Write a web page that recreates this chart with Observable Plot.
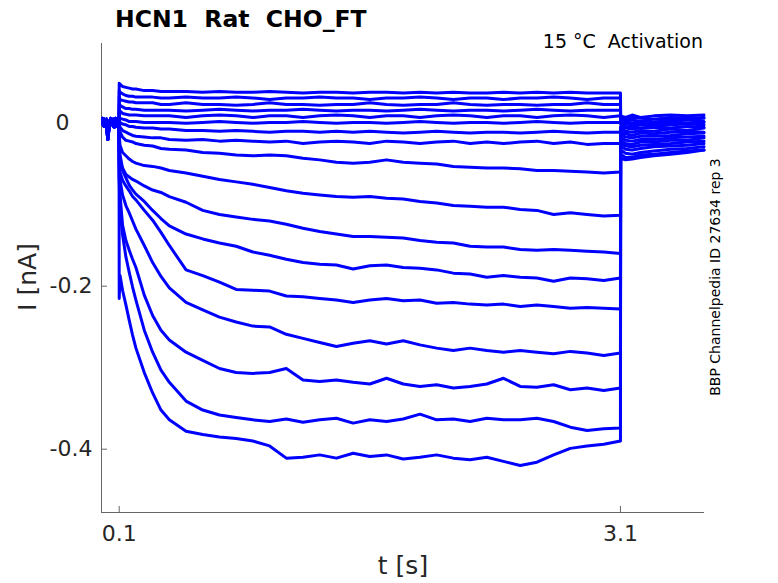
<!DOCTYPE html>
<html><head><meta charset="utf-8">
<script src="https://cdn.jsdelivr.net/npm/d3@7"></script>
<script src="https://cdn.jsdelivr.net/npm/@observablehq/plot@0.6"></script>
<style>body{margin:0;background:#fff;} #chart svg{display:block;}</style>
</head><body><div id="chart"></div>
<script>
// time samples (s)
const preT  = [0, 0.01, 0.02, 0.025, 0.032, 0.04, 0.05, 0.06, 0.07, 0.08, 0.09, 0.099];
const stepT = [0.1, 0.105, 0.12, 0.14, 0.16, 0.18, 0.2, 0.25, 0.3, 0.35, 0.4, 0.5, 0.6, 0.7, 0.8, 0.9, 1.0, 1.1, 1.2, 1.3, 1.4, 1.5, 1.6, 1.7, 1.8, 1.9, 2.0, 2.1, 2.2, 2.3, 2.4, 2.5, 2.6, 2.7, 2.8, 2.9, 3.0, 3.1];
const tailT = [3.101, 3.13, 3.17, 3.22, 3.3, 3.4, 3.5, 3.6];

// holding current before the step (nA)
const preA = [0.002, 0.005, 0.004, 0.001, -0.001, 0.002, 0.004, 0.001, 0.005, 0.002, 0.004, 0.001];
const preB = [-0.001, -0.004, -0.002, -0.006, -0.020, -0.004, -0.001, -0.002, -0.005, -0.001, -0.004, -0.002];
const preC = [0.006, 0.001, 0.002, 0.005, -0.005, 0.000, 0.006, 0.004, 0.001, 0.006, 0.002, 0.004];

// step current (stepT) followed by tail current (tailT), nA
const trace01 = [0.049,0.048,0.045,0.044,0.043,0.042,0.042,0.040,0.040,0.039,0.039, 0.039,0.038,0.039,0.038,0.038,0.039,0.038,0.037,0.038,0.038, 0.037,0.038,0.038,0.037,0.038,0.037,0.038,0.037,0.037,0.038, 0.037,0.038,0.037,0.038,0.037,0.037,0.037, 0.009,0.007,0.010,0.007,0.009,0.010,0.009,0.010];
const trace02 = [0.040,0.038,0.036,0.034,0.033,0.033,0.032,0.032,0.032,0.031,0.031, 0.032,0.031,0.031,0.032,0.031,0.029,0.031,0.031,0.032,0.031, 0.031,0.029,0.031,0.031,0.032,0.031,0.029,0.031,0.031,0.029, 0.031,0.031,0.032,0.031,0.029,0.031,0.031, 0.006,0.005,0.007,0.006,0.005,0.007,0.006,0.007];
const trace03 = [0.032,0.029,0.028,0.027,0.026,0.026,0.025,0.025,0.025,0.023,0.023, 0.025,0.023,0.023,0.022,0.023,0.025,0.023,0.023,0.022,0.023, 0.023,0.025,0.023,0.022,0.023,0.023,0.025,0.023,0.022,0.023, 0.023,0.022,0.023,0.023,0.025,0.023,0.023, 0.005,0.002,0.004,0.002,0.005,0.004,0.005,0.006];
const trace04 = [0.023,0.022,0.020,0.018,0.018,0.017,0.017,0.016,0.016,0.016,0.016, 0.015,0.016,0.017,0.016,0.015,0.016,0.016,0.017,0.016,0.015, 0.016,0.016,0.015,0.016,0.017,0.016,0.015,0.016,0.016,0.015, 0.016,0.017,0.016,0.015,0.016,0.016,0.016, 0.002,0.001,0.000,0.002,0.001,0.002,0.004,0.002];
const trace05 = [0.016,0.015,0.012,0.011,0.010,0.010,0.010,0.009,0.009,0.009,0.009, 0.007,0.009,0.010,0.009,0.007,0.009,0.009,0.007,0.009,0.010, 0.009,0.007,0.009,0.009,0.007,0.009,0.010,0.009,0.007,0.009, 0.009,0.007,0.009,0.010,0.009,0.007,0.009, 0.000,-0.001,-0.002,0.000,-0.001,0.001,0.000,0.001];
const trace06 = [0.007,0.006,0.005,0.004,0.002,0.002,0.002,0.001,0.001,0.001,0.001, 0.000,0.001,0.002,0.001,0.000,0.001,0.001,0.002,0.001,0.000, 0.001,0.001,0.000,0.001,0.002,0.001,0.000,0.001,0.001,0.000, 0.001,0.002,0.001,0.000,0.001,0.001,0.001, -0.001,-0.004,-0.005,-0.002,-0.004,-0.002,-0.001,-0.002];
const trace07 = [0.002,0.001,-0.001,-0.002,-0.004,-0.004,-0.005,-0.006,-0.006,-0.007,-0.007, -0.009,-0.009,-0.010,-0.009,-0.010,-0.011,-0.010,-0.010,-0.011,-0.010, -0.011,-0.010,-0.011,-0.012,-0.011,-0.010,-0.011,-0.012,-0.011,-0.011, -0.012,-0.011,-0.010,-0.011,-0.012,-0.011,-0.011, -0.004,-0.006,-0.007,-0.006,-0.005,-0.006,-0.004,-0.005];
const trace08 = [-0.001,-0.005,-0.009,-0.011,-0.013,-0.015,-0.016,-0.017,-0.018,-0.018,-0.020, -0.021,-0.020,-0.022,-0.021,-0.022,-0.023,-0.022,-0.025,-0.023,-0.022, -0.023,-0.025,-0.022,-0.023,-0.025,-0.023,-0.022,-0.025,-0.023,-0.025, -0.023,-0.022,-0.025,-0.023,-0.026,-0.025,-0.025, -0.006,-0.010,-0.011,-0.009,-0.010,-0.007,-0.009,-0.006];
const trace09 = [-0.005,-0.011,-0.017,-0.021,-0.022,-0.023,-0.025,-0.027,-0.028,-0.031,-0.032, -0.033,-0.036,-0.037,-0.039,-0.040,-0.039,-0.040,-0.043,-0.045,-0.048, -0.049,-0.048,-0.045,-0.048,-0.049,-0.050,-0.053,-0.054,-0.055,-0.055, -0.056,-0.058,-0.058,-0.059,-0.060,-0.061,-0.060, -0.010,-0.013,-0.015,-0.012,-0.013,-0.011,-0.010,-0.011];
const trace10 = [-0.015,-0.027,-0.036,-0.040,-0.044,-0.047,-0.049,-0.052,-0.053,-0.055,-0.058, -0.061,-0.065,-0.069,-0.072,-0.075,-0.079,-0.083,-0.086,-0.088,-0.090, -0.091,-0.090,-0.092,-0.093,-0.096,-0.098,-0.101,-0.102,-0.103,-0.103, -0.106,-0.107,-0.112,-0.110,-0.112,-0.114,-0.113, -0.013,-0.017,-0.018,-0.016,-0.016,-0.015,-0.013,-0.012];
const trace11 = [-0.021,-0.039,-0.055,-0.063,-0.066,-0.069,-0.071,-0.077,-0.082,-0.085,-0.090, -0.097,-0.107,-0.112,-0.115,-0.118,-0.120,-0.124,-0.129,-0.133,-0.136, -0.139,-0.139,-0.140,-0.141,-0.144,-0.146,-0.147,-0.151,-0.152,-0.152, -0.155,-0.156,-0.155,-0.156,-0.157,-0.158,-0.160, -0.017,-0.021,-0.022,-0.020,-0.020,-0.018,-0.017,-0.016];
const trace12 = [-0.033,-0.045,-0.058,-0.067,-0.076,-0.082,-0.087,-0.096,-0.107,-0.117,-0.126, -0.136,-0.142,-0.147,-0.151,-0.158,-0.162,-0.167,-0.171,-0.173,-0.174, -0.179,-0.175,-0.174,-0.177,-0.178,-0.180,-0.184,-0.185,-0.189,-0.187, -0.189,-0.190,-0.194,-0.190,-0.191,-0.193,-0.190, -0.021,-0.025,-0.026,-0.023,-0.023,-0.021,-0.021,-0.018];
const trace13 = [-0.045,-0.060,-0.070,-0.077,-0.083,-0.090,-0.094,-0.107,-0.119,-0.134,-0.150, -0.180,-0.187,-0.195,-0.204,-0.205,-0.206,-0.212,-0.213,-0.215,-0.217, -0.220,-0.217,-0.215,-0.218,-0.217,-0.221,-0.220,-0.222,-0.223,-0.222, -0.225,-0.223,-0.225,-0.227,-0.226,-0.227,-0.228, -0.025,-0.028,-0.029,-0.027,-0.026,-0.025,-0.023,-0.022];
const trace14 = [-0.052,-0.070,-0.088,-0.101,-0.110,-0.120,-0.130,-0.150,-0.171,-0.188,-0.202, -0.220,-0.229,-0.238,-0.244,-0.249,-0.250,-0.259,-0.264,-0.269,-0.274, -0.270,-0.267,-0.271,-0.267,-0.272,-0.276,-0.279,-0.276,-0.279,-0.281, -0.279,-0.281,-0.283,-0.280,-0.282,-0.285,-0.282, -0.028,-0.032,-0.033,-0.031,-0.029,-0.028,-0.027,-0.025];
const trace15 = [-0.064,-0.088,-0.125,-0.144,-0.156,-0.167,-0.177,-0.211,-0.236,-0.254,-0.266, -0.281,-0.291,-0.301,-0.306,-0.307,-0.306,-0.301,-0.315,-0.317,-0.315, -0.318,-0.320,-0.313,-0.320,-0.323,-0.321,-0.325,-0.323,-0.320,-0.313, -0.323,-0.324,-0.321,-0.327,-0.325,-0.328,-0.325, -0.033,-0.037,-0.038,-0.036,-0.034,-0.032,-0.031,-0.029];
const trace16 = [-0.070,-0.107,-0.137,-0.164,-0.183,-0.201,-0.217,-0.254,-0.281,-0.303,-0.318, -0.341,-0.352,-0.358,-0.361,-0.364,-0.366,-0.363,-0.367,-0.364,-0.362, -0.368,-0.364,-0.366,-0.363,-0.357,-0.364,-0.363,-0.366,-0.362,-0.364, -0.364,-0.362,-0.366,-0.373,-0.377,-0.375,-0.374, -0.038,-0.042,-0.042,-0.039,-0.038,-0.036,-0.034,-0.033];
const trace17 = [-0.215,-0.187,-0.205,-0.223,-0.242,-0.260,-0.276,-0.306,-0.331,-0.352,-0.364, -0.378,-0.382,-0.385,-0.387,-0.390,-0.396,-0.411,-0.410,-0.407,-0.411, -0.405,-0.409,-0.407,-0.412,-0.410,-0.407,-0.411,-0.413,-0.410,-0.415, -0.420,-0.416,-0.407,-0.399,-0.396,-0.394,-0.390, -0.043,-0.045,-0.044,-0.042,-0.040,-0.038,-0.036,-0.033];

const xTicks = [0.1, 3.1];
const yTicksNeg = [-0.4, -0.2];
const yTicksZero = [0];
const xDomain = [-0.006, 3.603];
const yDomain = [-0.4777, 0.0978];

const traces = [trace01, trace02, trace03, trace04, trace05, trace06, trace07, trace08, trace09,
  trace10, trace11, trace12, trace13, trace14, trace15, trace16, trace17];
const pres = [preA, preB, preC];
const mainT = stepT.concat(tailT);
const rows = [];
traces.forEach((tr, k) => {
  const pre = pres[k % 3];
  preT.forEach((t, i) => rows.push({trace: k, t, v: pre[i]}));
  mainT.forEach((t, i) => rows.push({trace: k, t, v: tr[i]}));
});

const axisColor = "#666";
const chart = Plot.plot({
  width: 778, height: 583,
  marginLeft: 101, marginRight: 74, marginTop: 43, marginBottom: 71,
  style: {fontFamily: "DejaVu Sans", fontSize: "22px", color: "#262626", background: "#fff"},
  x: {domain: xDomain},
  y: {domain: yDomain},
  marks: [
    Plot.ruleX([xDomain[0]], {stroke: axisColor}),
    Plot.ruleY([yDomain[0]], {stroke: axisColor}),
    Plot.axisX(xTicks, {tickSize: -6, tickPadding: 19, tickFormat: d => d.toFixed(1), label: null, stroke: axisColor}),
    Plot.axisY(yTicksNeg, {tickSize: -6, tickPadding: 15, tickFormat: d => d.toFixed(1), label: null, stroke: axisColor}),
    Plot.axisY(yTicksZero, {tickSize: -6, tickPadding: 38, tickFormat: d => "0", label: null, stroke: axisColor}),
    Plot.line(rows, {x: "t", y: "v", z: "trace", stroke: "#0000ff", strokeWidth: 3})
  ]
});
document.getElementById("chart").appendChild(chart);

const svg = d3.select(chart);
svg.append("text").attr("x", 115).attr("y", 27).attr("xml:space", "preserve")
  .style("white-space", "pre").attr("text-anchor", "start").attr("font-family", "DejaVu Sans").attr("font-weight", "bold")
  .attr("font-size", 23.5).attr("fill", "#000").text("HCN1  Rat  CHO_FT");
svg.append("text").attr("x", 703).attr("y", 48).attr("xml:space", "preserve")
  .style("white-space", "pre").attr("text-anchor", "end").attr("font-size", 19)
  .attr("fill", "#000").text("15 °C  Activation");
svg.append("text").attr("x", 403).attr("y", 574).attr("text-anchor", "middle")
  .attr("font-size", 25).attr("fill", "#262626").text("t [s]");
svg.append("text").attr("transform", "translate(36,277) rotate(-90)").attr("text-anchor", "middle")
  .attr("font-size", 25).attr("fill", "#262626").text("I [nA]");
svg.append("text").attr("transform", "translate(720,277) rotate(-90)").attr("text-anchor", "middle")
  .attr("font-size", 14).attr("fill", "#000").text("BBP Channelpedia ID 27634 rep 3");
</script>
</body></html>
